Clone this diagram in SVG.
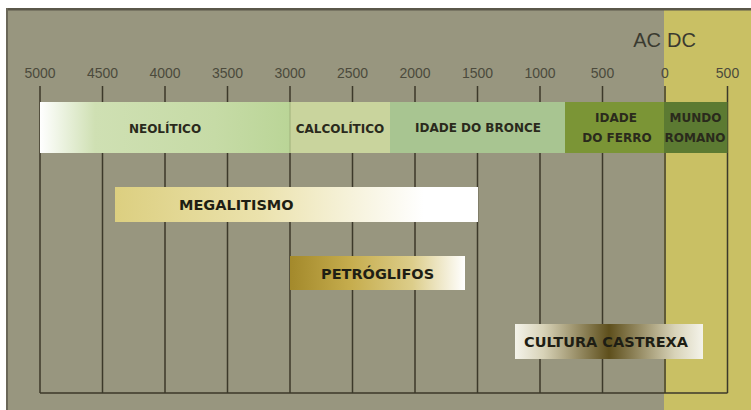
<svg xmlns="http://www.w3.org/2000/svg" width="751" height="410" viewBox="0 0 751 410">
<defs>
<style>
.num{font-family:"Liberation Sans",Arial,sans-serif;font-size:14px;fill:#4b4a3c;text-anchor:middle}
.era{font-family:"Liberation Sans",Arial,sans-serif;font-size:20px;fill:#3a3a30}
.lbl{font-family:"DejaVu Sans",Verdana,sans-serif;font-weight:bold;font-size:12px;fill:#2a2a1c;text-anchor:middle}
.big{font-family:"DejaVu Sans",Verdana,sans-serif;font-weight:bold;font-size:14.5px;fill:#1e1e14}
.grid{stroke:#3c392a;stroke-width:1.5;fill:none}
</style>
<linearGradient id="gNeo" x1="0" y1="0" x2="1" y2="0">
<stop offset="0" stop-color="#ffffff"/>
<stop offset="0.22" stop-color="#cfe0b3"/>
<stop offset="0.7" stop-color="#c6dba6"/>
<stop offset="1" stop-color="#bad597"/>
</linearGradient>
<linearGradient id="gMeg" x1="0" y1="0" x2="1" y2="0">
<stop offset="0" stop-color="#dccf80"/>
<stop offset="0.4" stop-color="#ebe2ad"/>
<stop offset="0.85" stop-color="#ffffff"/>
<stop offset="1" stop-color="#ffffff"/>
</linearGradient>
<linearGradient id="gPet" x1="0" y1="0" x2="1" y2="0">
<stop offset="0" stop-color="#a3892b"/>
<stop offset="0.35" stop-color="#c6ad4e"/>
<stop offset="0.7" stop-color="#dccd8a"/>
<stop offset="1" stop-color="#ffffff"/>
</linearGradient>
<linearGradient id="gCas" x1="0" y1="0" x2="1" y2="0">
<stop offset="0" stop-color="#f4f3ea"/>
<stop offset="0.15" stop-color="#d8d3b8"/>
<stop offset="0.5" stop-color="#5e4f1c"/>
<stop offset="0.85" stop-color="#d8d3b8"/>
<stop offset="1" stop-color="#f4f3ea"/>
</linearGradient>
</defs>
<rect x="0" y="0" width="751" height="410" fill="#ffffff"/>
<rect x="7" y="9" width="744" height="401" fill="#98967f"/>
<rect x="664" y="9" width="87" height="401" fill="#c9c064"/>
<rect x="7" y="8" width="744" height="2.5" fill="#5a574a"/>
<rect x="6" y="8" width="2" height="402" fill="#6a6758"/>
<g id="scale">
<text class="num" x="40" y="78">5000</text>
<text class="num" x="102.5" y="78">4500</text>
<text class="num" x="165" y="78">4000</text>
<text class="num" x="227.5" y="78">3500</text>
<text class="num" x="290" y="78">3000</text>
<text class="num" x="352.5" y="78">2500</text>
<text class="num" x="415" y="78">2000</text>
<text class="num" x="477.5" y="78">1500</text>
<text class="num" x="540" y="78">1000</text>
<text class="num" x="602.5" y="78">500</text>
<text class="num" x="665" y="78">0</text>
<text class="num" x="727.5" y="78">500</text>
<text class="era" x="661" y="47" text-anchor="end">AC</text>
<text class="era" x="667" y="47">DC</text>
</g>
<g id="connectors" class="grid">
<path d="M40 86V393M102.5 86V393M165 86V393M227.5 86V393M290 86V393M352.5 86V393M415 86V393M477.5 86V393M540 86V393M602.5 86V393M665 86V393M727.5 86V393M40 393H727.5"/>
</g>
<g id="neolitico">
<rect x="40" y="102" width="250" height="51" fill="url(#gNeo)"/>
<text class="lbl" x="165" y="133">NEOLÍTICO</text>
</g>
<g id="calcolitico">
<rect x="290" y="102" width="100" height="51" fill="#c9d49d"/>
<line x1="290" y1="102" x2="290" y2="153" stroke="#9fb07a" stroke-width="1"/>
<text class="lbl" x="340" y="133">CALCOLÍTICO</text>
</g>
<g id="bronce">
<rect x="390" y="102" width="175" height="51" fill="#a8c591"/>
<text class="lbl" x="478" y="132">IDADE DO BRONCE</text>
</g>
<g id="ferro">
<rect x="565" y="102" width="99" height="51" fill="#7b9536"/>
<text class="lbl" x="616" y="121.5">IDADE</text>
<text class="lbl" x="617" y="141.5">DO FERRO</text>
</g>
<g id="romano">
<rect x="664" y="102" width="63.5" height="51" fill="#5c7a32"/>
<text class="lbl" x="695.5" y="121.5">MUNDO</text>
<text class="lbl" x="695" y="141.5">ROMANO</text>
</g>
<g id="megalitismo">
<rect x="115" y="187" width="363" height="35" fill="url(#gMeg)"/>
<text class="big" x="179" y="210">MEGALITISMO</text>
</g>
<g id="petroglifos">
<rect x="290" y="256" width="175" height="34" fill="url(#gPet)"/>
<text class="big" x="321" y="279">PETRÓGLIFOS</text>
</g>
<g id="castrexa">
<rect x="515" y="324" width="188" height="35" fill="url(#gCas)"/>
<text class="big" x="524" y="347">CULTURA CASTREXA</text>
</g>
</svg>
